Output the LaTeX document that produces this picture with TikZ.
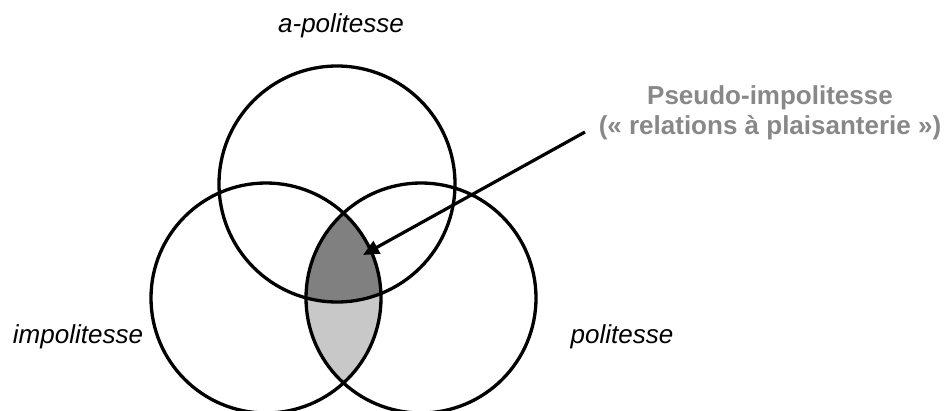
\documentclass[tikz,border=0pt]{standalone}
\usepackage{fontspec}
\setmainfont{Liberation Sans}
\usetikzlibrary{arrows.meta}
\definecolor{darkfill}{RGB}{128,128,128}
\definecolor{lightfill}{RGB}{200,200,200}
\definecolor{labelgray}{RGB}{136,136,136}
\begin{document}
\begin{tikzpicture}[x=1pt,y=-1pt,
  ring/.style={draw=black,line width=3.3pt},
  setlabel/.style={font=\fontsize{26}{30}\selectfont\itshape,text=black,inner sep=0pt},
  notelabel/.style={font=\fontsize{26}{30}\selectfont\bfseries,text=labelgray,align=center,inner sep=0pt},
  pointer/.style={line width=3.2pt,-{Triangle[length=16pt,width=14pt]}}]
\useasboundingbox (0,0) rectangle (947,410);
% circles geometry
\coordinate (ctop) at (337,184);
\coordinate (cleft) at (266,298);
\coordinate (cright) at (421,298);
% fills
\begin{scope}
  \clip (cleft) circle[radius=115];
  \clip (cright) circle[radius=115];
  \fill[lightfill] (cright) circle[radius=115];
  \fill[darkfill] (ctop) circle[radius=118];
\end{scope}
% outlines
\draw[ring] (ctop) circle[radius=118];
\draw[ring] (cleft) circle[radius=115];
\draw[ring] (cright) circle[radius=115];
% labels
\node[setlabel] (apol) at (341,26) {a-politesse};
\node[setlabel] (impol) at (78,337) {impolitesse};
\node[setlabel] (pol) at (622,337) {politesse};
\node[notelabel] (pseudo) at (770,113) {Pseudo-impolitesse\\(« relations à plaisanterie »)};
% arrow
\coordinate (astart) at (585,132);
\coordinate (atip) at (363,255);
\draw[pointer] (astart) -- (atip);
\end{tikzpicture}
\end{document}
